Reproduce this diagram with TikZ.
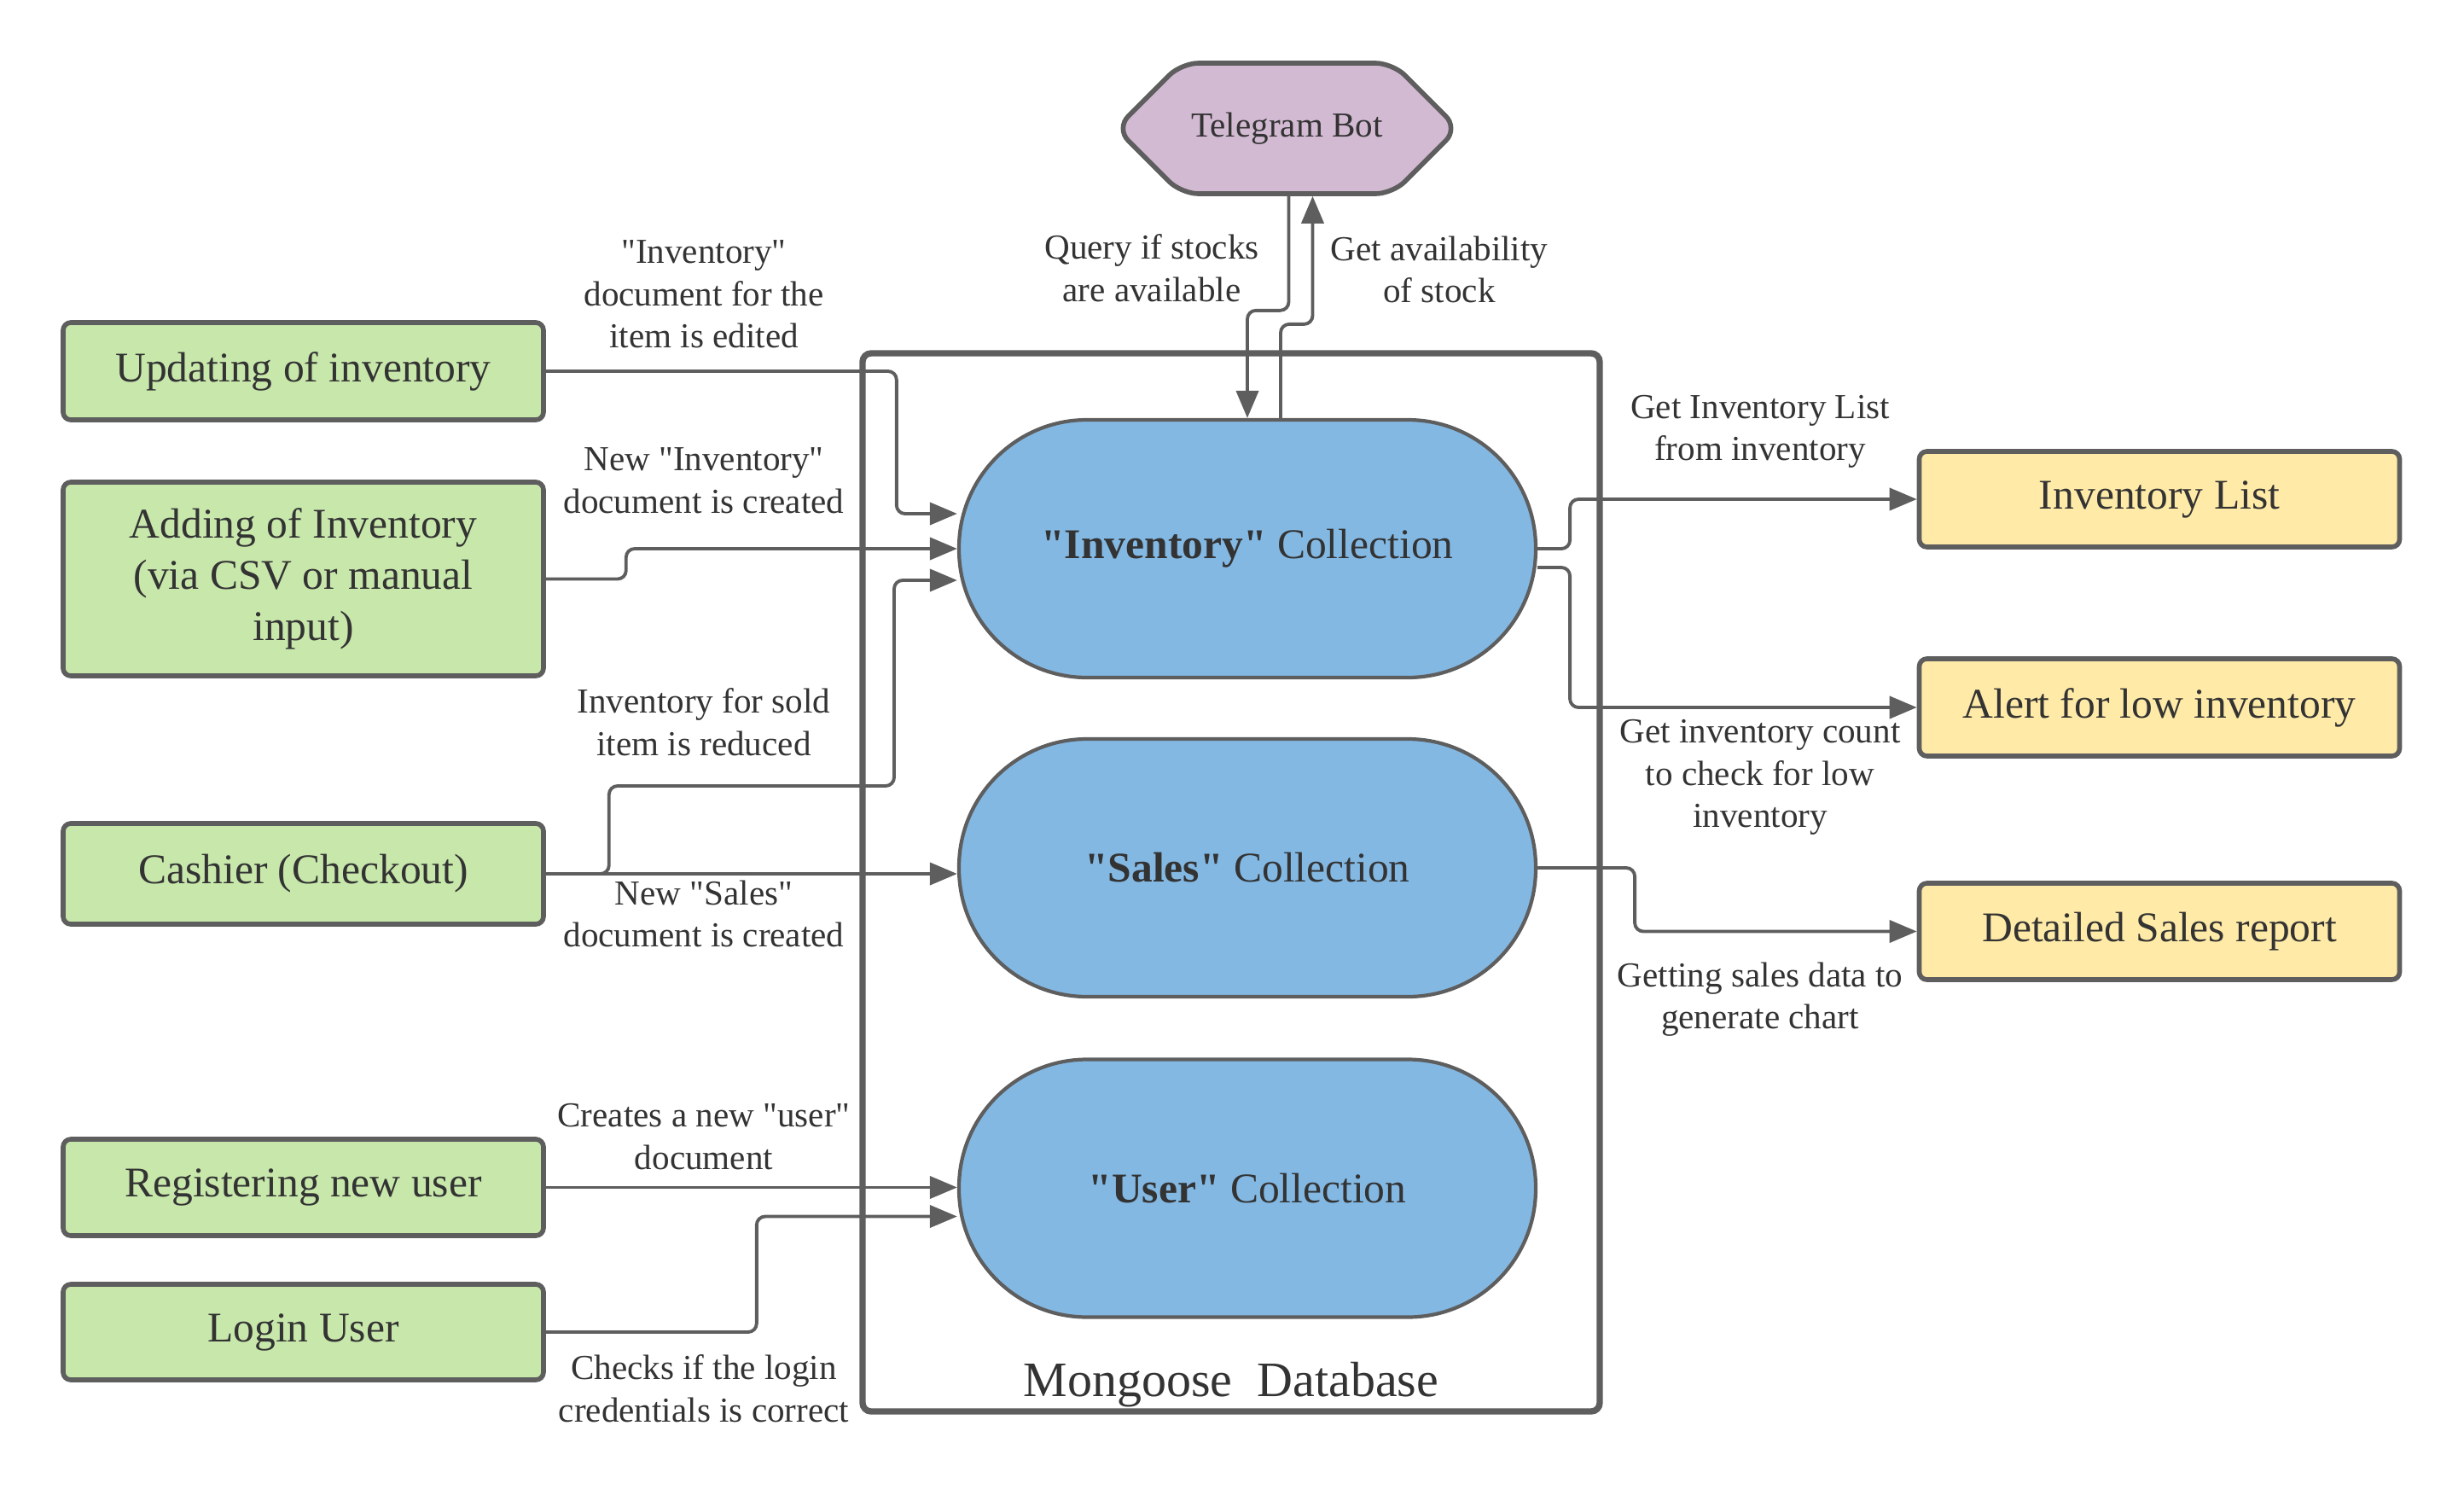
\documentclass[tikz,border=0pt]{standalone}
\usepackage{fontspec}
\setmainfont{Liberation Serif}[Ligatures=TeXOff]
\usetikzlibrary{arrows.meta,shapes.symbols}

\definecolor{linegray}{HTML}{5E5E5E}
\definecolor{textgray}{HTML}{333333}
\definecolor{greenfill}{HTML}{C7E7AB}
\definecolor{yellowfill}{HTML}{FFEAA7}
\definecolor{bluefill}{HTML}{83B8E3}
\definecolor{purplefill}{HTML}{D2BAD2}

\tikzset{
  srcbox/.style={draw=linegray, line width=1.6pt, fill=greenfill, rounded corners=0.9mm,
    minimum width=5.63cm, align=center, text=textgray, font=\fontsize{14.1}{17}\selectfont},
  outbox/.style={srcbox, fill=yellowfill},
  coll/.style={draw=linegray, line width=1.2pt, fill=bluefill, rounded corners=1.5cm,
    minimum width=6.76cm, minimum height=3.02cm, text=textgray, font=\fontsize{14.1}{17}\selectfont},
  flow/.style={draw=linegray, line width=1.1pt, rounded corners=1mm, -{Triangle[length=3.2mm,width=2.6mm]}},
  lbl/.style={align=center, text=textgray, font=\fontsize{11.7}{14.1}\selectfont}
}

\begin{document}
\begin{tikzpicture}
  \useasboundingbox (0,0) rectangle (28.88,-17.66);

  % database frame
  \node (db) [draw=linegray, line width=2.1pt, rounded corners=1mm, minimum width=8.64cm, minimum height=12.40cm] at (14.43,-10.34) {};
  \node (dbname) [text=textgray, font=\fontsize{16.5}{19}\selectfont] at (14.43,-16.23) {Mongoose~~Database};

  % collections
  \node (inv) [coll] at (14.62,-6.43) {\textbf{"Inventory"} Collection};
  \node (sales) [coll] at (14.62,-10.17) {\textbf{"Sales"} Collection};
  \node (user) [coll] at (14.62,-13.925) {\textbf{"User"} Collection};

  \node (bot) [draw=linegray, line width=1.6pt, fill=purplefill, shape=signal, signal to=west and east,
    signal pointer angle=90, rounded corners=2mm, minimum width=3.87cm, minimum height=1.53cm,
    text=textgray, font=\fontsize{11.7}{14.1}\selectfont] at (15.085,-1.505) {Telegram Bot};

  % inputs
  \node (upd) [srcbox, minimum height=1.14cm] at (3.555,-4.35) {Updating of inventory};
  \node (add) [srcbox, minimum height=2.27cm] at (3.555,-6.785) {Adding of Inventory\\(via CSV or manual\\input)};
  \node (cash) [srcbox, minimum height=1.18cm] at (3.555,-10.24) {Cashier (Checkout)};
  \node (reg) [srcbox, minimum height=1.13cm] at (3.555,-13.915) {Registering new user};
  \node (login) [srcbox, minimum height=1.12cm] at (3.555,-15.61) {Login User};

  % outputs
  \node (invlist) [outbox, minimum height=1.12cm] at (25.31,-5.85) {Inventory List};
  \node (alert) [outbox, minimum height=1.14cm] at (25.31,-8.29) {Alert for low inventory};
  \node (report) [outbox, minimum height=1.13cm] at (25.31,-10.915) {Detailed Sales report};

  % connectors
  \draw[flow] (upd.east) -- ++(4.11,0) |- ([yshift=4.1mm]inv.west);
  \draw[flow] (add.east) -- ++(0.94,0) |- (inv.west);
  \draw[flow] (cash.east) -- ++(0.74,0) |- (10.48,-9.21) |- ([yshift=-3.7mm]inv.west);
  \draw[flow] (cash.east) -- (cash.east -| sales.west);
  \draw[flow] (reg.east) -- (reg.east -| user.west);
  \draw[flow] (login.east) -- ++(2.47,0) |- ([yshift=-3.3mm]user.west);
  \draw[flow] ([xshift=0.2mm]bot.south) -- ++(0,-1.34) -| (inv.north);
  \draw[flow] ([xshift=3.9mm]inv.north) -- ++(0,1.1) -| ([xshift=3mm]bot.south);
  \draw[flow] (inv.east) -- ++(0.38,0) |- (invlist.west);
  \draw[flow] ([yshift=-2.2mm]inv.east) -- ++(0.38,0) |- (alert.west);
  \draw[flow] (sales.east) -- ++(1.14,0) |- (report.west);

  % connector labels
  \node (lupd) [lbl] at (8.25,-3.45) {"Inventory"\\document for the\\item is edited};
  \node (ladd) [lbl] at (8.25,-5.63) {New "Inventory"\\document is created};
  \node (lsold) [lbl] at (8.25,-8.46) {Inventory for sold\\item is reduced};
  \node (lsales) [lbl] at (8.25,-10.71) {New "Sales"\\document is created};
  \node (lreg) [lbl] at (8.25,-13.32) {Creates a new "user"\\document};
  \node (llogin) [lbl] at (8.25,-16.27) {Checks if the login\\credentials is correct};
  \node (lquery) [lbl] at (13.50,-3.14) {Query if stocks\\are available};
  \node (lavail) [lbl] at (16.87,-3.16) {Get availability\\of stock};
  \node (llist) [lbl] at (20.63,-5.06) {Get Inventory List\\from inventory};
  \node (lcount) [lbl] at (20.63,-9.11) {Get inventory count\\to check for low\\inventory};
  \node (lreport) [lbl] at (20.63,-11.71) {Getting sales data to\\generate chart};
\end{tikzpicture}
\end{document}
